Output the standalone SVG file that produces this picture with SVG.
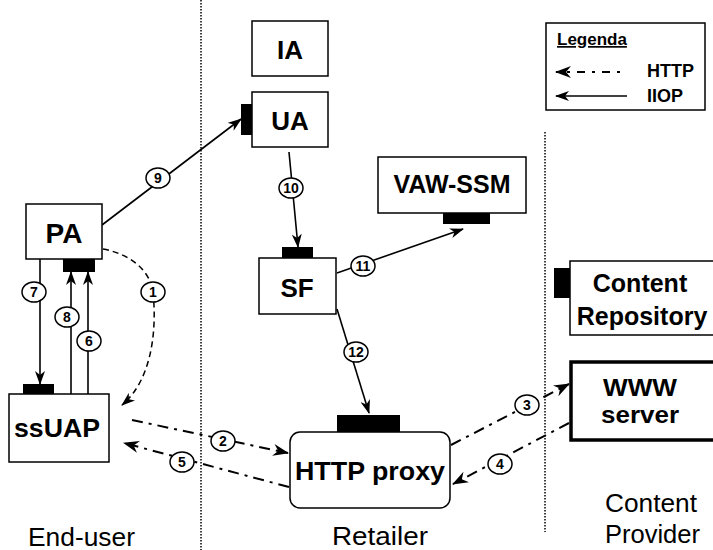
<svg xmlns="http://www.w3.org/2000/svg" width="713" height="550" viewBox="0 0 713 550">
  <defs>
    <marker id="head" viewBox="0 0 14 10" refX="13" refY="5" markerWidth="14" markerHeight="10" orient="auto" markerUnits="userSpaceOnUse">
      <path d="M0,0 L14,5 L0,10 L4,5 z" fill="#000"/>
    </marker>
    <marker id="headBig" viewBox="0 0 16 12" refX="15" refY="6" markerWidth="16" markerHeight="12" orient="auto" markerUnits="userSpaceOnUse">
      <path d="M0,0 L16,6 L0,12 L5,6 z" fill="#000"/>
    </marker>
  </defs>
  <style>
    .box { fill: #fff; stroke: #000; stroke-width: 1.5; }
    .port { fill: #000; }
    .lbl { font-family: "Liberation Sans", Arial, sans-serif; font-weight: bold; fill: #000; text-anchor: middle; }
    .zone { font-family: "Liberation Sans", Arial, sans-serif; font-size: 25px; fill: #000; }
    .divider { stroke: #000; stroke-width: 1.5; stroke-dasharray: 1.5 1.5; fill: none; }
    .iiop { stroke: #000; stroke-width: 1.6; fill: none; marker-end: url(#head); }
    .http { stroke: #000; stroke-width: 2; fill: none; stroke-dasharray: 11 6 3 6; marker-end: url(#headBig); }
    .dash { stroke: #000; stroke-width: 1.5; fill: none; stroke-dasharray: 6 4; marker-end: url(#head); }
    .num ellipse { fill: #fff; stroke: #000; stroke-width: 1.5; }
    .num text { font-family: "Liberation Sans", Arial, sans-serif; font-weight: bold; font-size: 14px; text-anchor: middle; fill: #000; }
  </style>

  <rect width="713" height="550" fill="#fff"/>

  <!-- domain boundaries -->
  <g id="dividers">
    <line class="divider" x1="201" y1="0" x2="201" y2="550"/>
    <line class="divider" x1="545" y1="132" x2="545" y2="532"/>
  </g>

  <!-- domain names -->
  <g id="zones">
    <text class="zone" x="28" y="546" textLength="107" lengthAdjust="spacingAndGlyphs">End-user</text>
    <text class="zone" x="332" y="545" textLength="96" lengthAdjust="spacingAndGlyphs">Retailer</text>
    <text class="zone" x="605" y="512" textLength="92" lengthAdjust="spacingAndGlyphs">Content</text>
    <text class="zone" x="605" y="543" textLength="95" lengthAdjust="spacingAndGlyphs">Provider</text>
  </g>

  <!-- connectors -->
  <g id="connectors">
    <line class="iiop" x1="102" y1="225" x2="241" y2="119"/>
    <line class="iiop" x1="289" y1="152" x2="298" y2="247"/>
    <line class="iiop" x1="337" y1="273" x2="463" y2="229"/>
    <line class="iiop" x1="337" y1="309" x2="369" y2="413"/>
    <line class="iiop" x1="40" y1="259" x2="40" y2="384"/>
    <line class="iiop" x1="71" y1="394" x2="71" y2="272"/>
    <line class="iiop" x1="88" y1="394" x2="88" y2="272"/>
    <path class="dash" d="M103,249 C130,254 150,270 153,292 C157,330 152,380 122,405"/>
    <line class="http" x1="132" y1="420" x2="288" y2="453"/>
    <line class="http" x1="289" y1="487" x2="124" y2="443"/>
    <line class="http" x1="451" y1="445" x2="569" y2="384"/>
    <line class="http" x1="569" y1="423" x2="453" y2="484"/>
  </g>

  <!-- step numbers -->
  <g id="steps" class="num">
    <g><ellipse cx="153" cy="292" rx="12" ry="10"/><text x="153" y="297">1</text></g>
    <g><ellipse cx="223" cy="441" rx="12" ry="10"/><text x="223" y="446">2</text></g>
    <g><ellipse cx="527" cy="405" rx="12" ry="10"/><text x="527" y="410">3</text></g>
    <g><ellipse cx="500" cy="464" rx="12" ry="10"/><text x="500" y="469">4</text></g>
    <g><ellipse cx="182" cy="462" rx="12" ry="10"/><text x="182" y="467">5</text></g>
    <g><ellipse cx="89" cy="341" rx="12" ry="10"/><text x="89" y="346">6</text></g>
    <g><ellipse cx="34" cy="292" rx="12" ry="10"/><text x="34" y="297">7</text></g>
    <g><ellipse cx="67" cy="317" rx="12" ry="10"/><text x="67" y="322">8</text></g>
    <g><ellipse cx="158" cy="178" rx="12" ry="10"/><text x="158" y="183">9</text></g>
    <g><ellipse cx="291" cy="188" rx="12" ry="10"/><text x="291" y="193">10</text></g>
    <g><ellipse cx="363" cy="266" rx="12" ry="10"/><text x="363" y="271">11</text></g>
    <g><ellipse cx="356" cy="352" rx="12" ry="10"/><text x="356" y="357">12</text></g>
  </g>

  <!-- nodes -->
  <g id="IA">
    <rect class="box" x="252" y="21" width="76" height="55"/>
    <text class="lbl" x="290" y="59" font-size="26">IA</text>
  </g>
  <g id="UA">
    <rect class="box" x="252" y="92" width="76" height="55"/>
    <rect class="port" x="241" y="104" width="11" height="31"/>
    <text class="lbl" x="290" y="130" font-size="26">UA</text>
  </g>
  <g id="VAW-SSM">
    <rect class="box" x="378" y="157" width="148" height="56"/>
    <rect class="port" x="443" y="213" width="47" height="11"/>
    <text class="lbl" x="452" y="193" font-size="25">VAW-SSM</text>
  </g>
  <g id="SF">
    <rect class="box" x="259" y="258" width="77" height="56"/>
    <rect class="port" x="282" y="247" width="31" height="11"/>
    <text class="lbl" x="297" y="297" font-size="26">SF</text>
  </g>
  <g id="PA">
    <rect class="box" x="26" y="204" width="76" height="55"/>
    <rect class="port" x="63" y="259" width="32" height="13"/>
    <text class="lbl" x="64" y="243" font-size="28">PA</text>
  </g>
  <g id="ssUAP">
    <rect class="box" x="9" y="394" width="100" height="68"/>
    <rect class="port" x="23" y="384" width="31" height="10"/>
    <text class="lbl" x="57" y="437" font-size="25" textLength="86" lengthAdjust="spacingAndGlyphs">ssUAP</text>
  </g>
  <g id="HTTP-proxy">
    <rect class="box" x="290" y="432" width="160" height="76" rx="10" ry="10"/>
    <rect class="port" x="337" y="415" width="63" height="17"/>
    <text class="lbl" x="370" y="480" font-size="26" textLength="150" lengthAdjust="spacingAndGlyphs">HTTP proxy</text>
  </g>
  <g id="Content-Repository">
    <rect class="box" x="570" y="261" width="160" height="74"/>
    <rect class="port" x="554" y="268" width="16" height="30"/>
    <text class="lbl" x="640" y="292" font-size="25">Content</text>
    <text class="lbl" x="642" y="325" font-size="25">Repository</text>
  </g>
  <g id="WWW-server">
    <rect class="box" x="571" y="362" width="160" height="78" style="stroke-width:3.5"/>
    <text class="lbl" x="640" y="396" font-size="24" textLength="74" lengthAdjust="spacingAndGlyphs">WWW</text>
    <text class="lbl" x="640" y="423" font-size="24" textLength="78" lengthAdjust="spacingAndGlyphs">server</text>
  </g>

  <!-- legend -->
  <g id="legend">
    <rect class="box" x="546" y="23" width="159" height="87"/>
    <text x="557" y="45" font-family="Liberation Sans, Arial, sans-serif" font-weight="bold" font-size="17" text-decoration="underline">Legenda</text>
    <line x1="620" y1="72" x2="556" y2="72" stroke="#000" stroke-width="2" stroke-dasharray="3 7 8 7" marker-end="url(#headBig)"/>
    <line x1="627" y1="96" x2="556" y2="96" stroke="#000" stroke-width="1.6" marker-end="url(#head)"/>
    <text x="647" y="77" font-family="Liberation Sans, Arial, sans-serif" font-weight="bold" font-size="18">HTTP</text>
    <text x="647" y="102" font-family="Liberation Sans, Arial, sans-serif" font-weight="bold" font-size="18">IIOP</text>
  </g>
</svg>
